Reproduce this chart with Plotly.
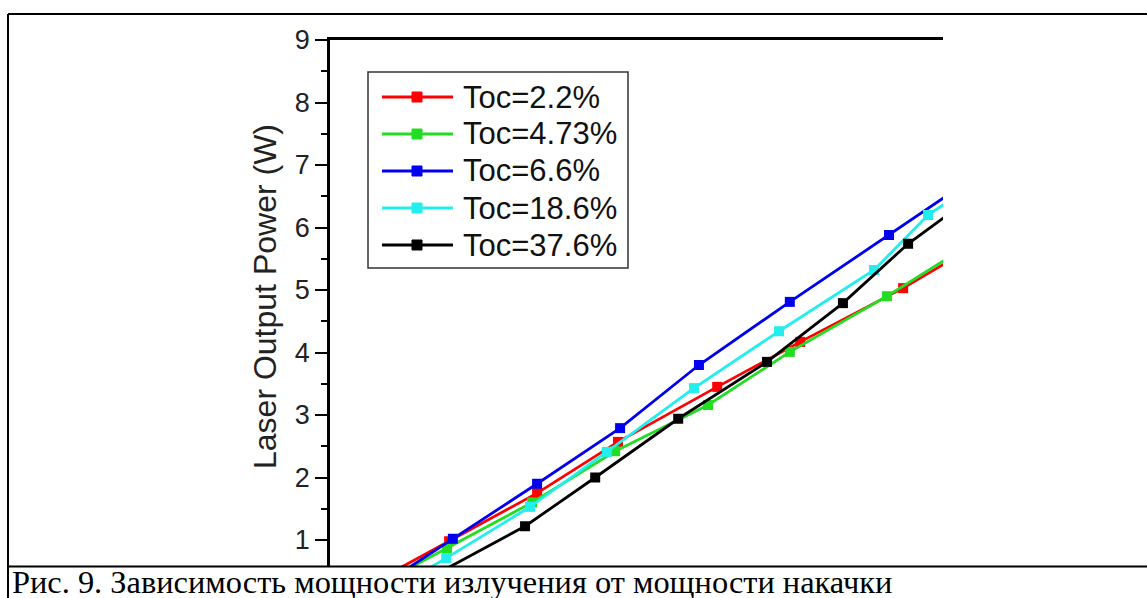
import plotly.graph_objects as go

W, H = 1147, 598

# ---- data (pump power in arbitrary W units, output power in W) ----
series_names = ["Toc=2.2%", "Toc=4.73%", "Toc=6.6%", "Toc=18.6%", "Toc=37.6%"]
series_colors = ["#ff0000", "#22dd22", "#0000ee", "#22eeee", "#000000"]

x_red = [0.96, 2.87, 4.99, 6.94, 9.33, 11.33, 13.81, 15.78]
y_red = [0.29, 0.98, 1.75, 2.57, 3.45, 4.17, 5.03, 5.80]

x_green = [0.96, 2.82, 4.87, 6.87, 9.11, 11.08, 13.42, 15.78]
y_green = [0.21, 0.87, 1.60, 2.42, 3.16, 4.01, 4.90, 5.88]

x_blue = [0.96, 2.96, 4.99, 6.99, 8.89, 11.08, 13.47, 15.78]
y_blue = [0.15, 1.02, 1.90, 2.79, 3.80, 4.81, 5.88, 6.92]

x_cyan = [0.96, 2.80, 4.82, 6.67, 8.77, 10.82, 13.11, 14.41, 15.78]
y_cyan = [0.00, 0.71, 1.53, 2.41, 3.43, 4.34, 5.32, 6.20, 6.81]

x_black = [2.41, 4.70, 6.39, 8.39, 10.53, 12.36, 13.93, 15.78]
y_black = [0.40, 1.22, 2.00, 2.94, 3.85, 4.79, 5.74, 6.64]

y_tickvals = [1, 2, 3, 4, 5, 6, 7, 8, 9]
y_minor = [0.5, 1.5, 2.5, 3.5, 4.5, 5.5, 6.5, 7.5, 8.5]

y_title = "Laser Output Power (W)"
caption = "Рис. 9. Зависимость мощности излучения от мощности накачки"

xs = [x_red, x_green, x_blue, x_cyan, x_black]
ys = [y_red, y_green, y_blue, y_cyan, y_black]


def px(x):
    return x / W


def py(y):
    return 1 - y / H


fig = go.Figure()
for name, col, xv, yv in zip(series_names, series_colors, xs, ys):
    fig.add_trace(go.Scatter(
        x=xv, y=yv, name=name, mode="lines+markers",
        line=dict(color=col, width=2.8),
        marker=dict(symbol="square", size=10, color=col),
        showlegend=False,
    ))

# plot area geometry (pixels)
L, R, T, B = 330, 943, 40, 566

shapes = []
annotations = []

# outer document table borders
shapes.append(dict(type="line", xref="paper", yref="paper", x0=px(8), x1=px(W), y0=py(14), y1=py(14),
                   line=dict(color="black", width=2)))
shapes.append(dict(type="line", xref="paper", yref="paper", x0=px(8), x1=px(8), y0=py(14), y1=py(H),
                   line=dict(color="black", width=2)))
shapes.append(dict(type="line", xref="paper", yref="paper", x0=px(8), x1=px(W), y0=py(566.5), y1=py(566.5),
                   line=dict(color="black", width=2)))

# custom legend
lx0, lx1, ly0, ly1 = 368, 628, 72, 268
shapes.append(dict(type="rect", xref="paper", yref="paper", x0=px(lx0), x1=px(lx1), y0=py(ly0), y1=py(ly1),
                   line=dict(color="#333333", width=1.5), fillcolor="white"))
for i, (name, col) in enumerate(zip(series_names, series_colors)):
    ry = 97 + i * 37
    shapes.append(dict(type="line", xref="paper", yref="paper", x0=px(382), x1=px(453), y0=py(ry), y1=py(ry),
                       line=dict(color=col, width=2.8)))
    shapes.append(dict(type="rect", xref="paper", yref="paper", x0=px(412), x1=px(422),
                       y0=py(ry - 5), y1=py(ry + 5), line=dict(color=col, width=1), fillcolor=col))
    annotations.append(dict(xref="paper", yref="paper", x=px(461), y=py(ry), text=name, showarrow=False,
                            xanchor="left", yanchor="middle",
                            font=dict(family="Liberation Sans, Arial", size=31, color="#111111")))

# y-axis title
annotations.append(dict(xref="paper", yref="paper", x=px(265), y=py(297), text=y_title, showarrow=False,
                        textangle=-90, xanchor="center", yanchor="middle",
                        font=dict(family="Liberation Sans, Arial", size=32, color="#222222")))
# caption
annotations.append(dict(xref="paper", yref="paper", x=px(10), y=py(582), text=caption, showarrow=False,
                        xanchor="left", yanchor="middle",
                        font=dict(family="Liberation Serif, Times New Roman", size=32.4, color="black")))

fig.update_layout(
    width=W, height=H,
    margin=dict(l=0, r=0, t=0, b=0, autoexpand=False),
    paper_bgcolor="white", plot_bgcolor="white",
    showlegend=False,
    shapes=shapes, annotations=annotations,
    xaxis=dict(domain=[px(L), px(R)], range=[0, (R - L) / 41.5], side="top", automargin=False,
               showline=True, linecolor="black", linewidth=2.6, mirror=False,
               showticklabels=False, ticks="", showgrid=False, zeroline=False),
    yaxis=dict(domain=[py(B), py(T)], range=[1 - (B - 540) / 62.5, 1 + (540 - T) / 62.5],
               automargin=False,
               showline=True, linecolor="black", linewidth=2.6,
               tickvals=y_tickvals, ticks="outside", ticklen=12, tickwidth=2, tickcolor="black",
               minor=dict(tickvals=y_minor, ticks="outside", ticklen=6, tickwidth=2, tickcolor="black"),
               tickfont=dict(family="Liberation Sans, Arial", size=27, color="#222222"),
               ticklabelstandoff=0,
               showgrid=False, zeroline=False),
)

fig.write_html("out.html")
